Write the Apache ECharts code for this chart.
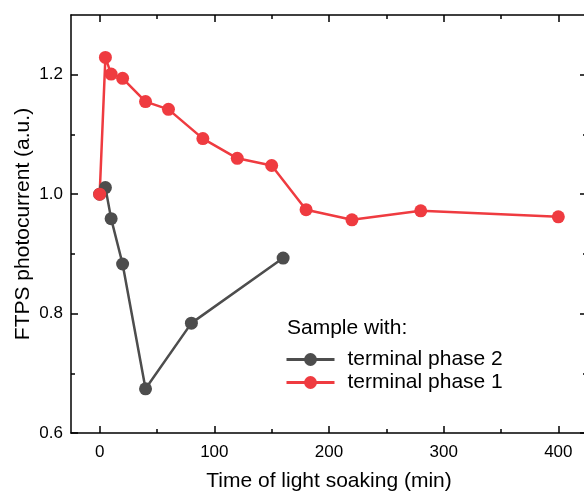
<!DOCTYPE html>
<html>
<head>
<meta charset="utf-8">
<script src="https://cdn.jsdelivr.net/npm/echarts@6/dist/echarts.min.js"></script>
<style>html,body{margin:0;padding:0;background:#fff}#c{width:584px;height:491px}</style>
</head>
<body>
<div id="c"></div>
<script>
// Data
const phase1Time = [0, 5, 10, 20, 40, 60, 90, 120, 150, 180, 220, 280, 400];
const phase1Value = [1.0, 1.229, 1.201, 1.194, 1.155, 1.142, 1.093, 1.060, 1.048, 0.974, 0.957, 0.972, 0.962];
const phase2Time = [0, 5, 10, 20, 40, 80, 160];
const phase2Value = [1.0, 1.011, 0.959, 0.883, 0.674, 0.784, 0.893];
const xMajorTicks = [0, 100, 200, 300, 400];
const xMinorTicks = [50, 150, 250, 350];
const yMajorTicks = [0.6, 0.8, 1.0, 1.2];
const yMinorTicks = [0.7, 0.9, 1.1];
const seriesNames = ['terminal phase 2', 'terminal phase 1'];
const legendTitle = 'Sample with:';
const xTitle = 'Time of light soaking (min)';
const yTitle = 'FTPS photocurrent (a.u.)';

const FONT = 'Liberation Sans, Arial, sans-serif';
const RED = '#ef3b40';
const GRAY = '#4d4d4d';
const X_MIN = -25, X_MAX = 425, Y_MIN = 0.6, Y_MAX = 1.3;
const lineStyle = { color: '#000', width: 1.5 };

function xAx(pos, ticks, len, withLabel, showLine) {
  const a = {
    type: 'value', position: pos, min: X_MIN, max: X_MAX,
    axisLine: { show: showLine, onZero: false, lineStyle },
    axisTick: { show: true, inside: true, length: len, customValues: ticks, lineStyle },
    splitLine: { show: false },
    axisLabel: { show: withLabel, customValues: ticks, fontSize: 17, color: '#000', fontFamily: FONT, margin: 11 }
  };
  if (withLabel) {
    a.name = xTitle; a.nameLocation = 'middle'; a.nameGap = 38; a.nameMoveOverlap = false;
    a.nameTextStyle = { fontSize: 21, color: '#000', fontFamily: FONT };
  }
  return a;
}
function yAx(pos, ticks, len, withLabel, showLine) {
  const a = {
    type: 'value', position: pos, min: Y_MIN, max: Y_MAX,
    axisLine: { show: showLine, onZero: false, lineStyle },
    axisTick: { show: true, inside: true, length: len, customValues: ticks, lineStyle },
    splitLine: { show: false },
    axisLabel: { show: withLabel, customValues: ticks, fontSize: 17, color: '#000', fontFamily: FONT, margin: 8,
      formatter: v => v.toFixed(1) }
  };
  if (withLabel) {
    a.name = yTitle; a.nameLocation = 'middle'; a.nameGap = 37; a.nameMoveOverlap = false;
    a.nameTextStyle = { fontSize: 21, color: '#000', fontFamily: FONT };
  }
  return a;
}

const chart = echarts.init(document.getElementById('c'), null, { renderer: 'canvas' });
chart.setOption({
  animation: false,
  backgroundColor: '#fff',
  grid: { left: 71, top: 15, right: -3, bottom: 58, containLabel: false, outerBoundsMode: 'none' },
  title: {
    text: legendTitle, left: 287, top: 318,
    textStyle: { fontSize: 21, fontWeight: 'normal', color: '#000', fontFamily: FONT }, padding: 0
  },
  legend: {
    data: seriesNames, orient: 'vertical', left: 285, top: 349,
    itemWidth: 48, itemHeight: 16, itemGap: 2, padding: 0,
    lineStyle: { width: 3 },
    textStyle: { fontSize: 21, color: '#000', fontFamily: FONT, padding: [0, 0, 0, 8] }
  },
  xAxis: [
    xAx('bottom', xMajorTicks, 7, true, true),
    xAx('bottom', xMinorTicks, 4, false, false),
    xAx('top', xMajorTicks, 7, false, true),
    xAx('top', xMinorTicks, 4, false, false)
  ],
  yAxis: [
    yAx('left', yMajorTicks, 7, true, true),
    yAx('left', yMinorTicks, 4, false, false),
    yAx('right', yMajorTicks, 7, false, true),
    yAx('right', yMinorTicks, 4, false, false)
  ],
  series: [
    {
      name: seriesNames[0], type: 'line', xAxisIndex: 0, yAxisIndex: 0,
      data: phase2Time.map((t, i) => [t, phase2Value[i]]),
      symbol: 'circle', symbolSize: 13,
      lineStyle: { color: GRAY, width: 2.5 }, itemStyle: { color: GRAY }
    },
    {
      name: seriesNames[1], type: 'line', xAxisIndex: 0, yAxisIndex: 0,
      data: phase1Time.map((t, i) => [t, phase1Value[i]]),
      symbol: 'circle', symbolSize: 13,
      lineStyle: { color: RED, width: 2.5 }, itemStyle: { color: RED }
    }
  ]
});
</script>
</body>
</html>
